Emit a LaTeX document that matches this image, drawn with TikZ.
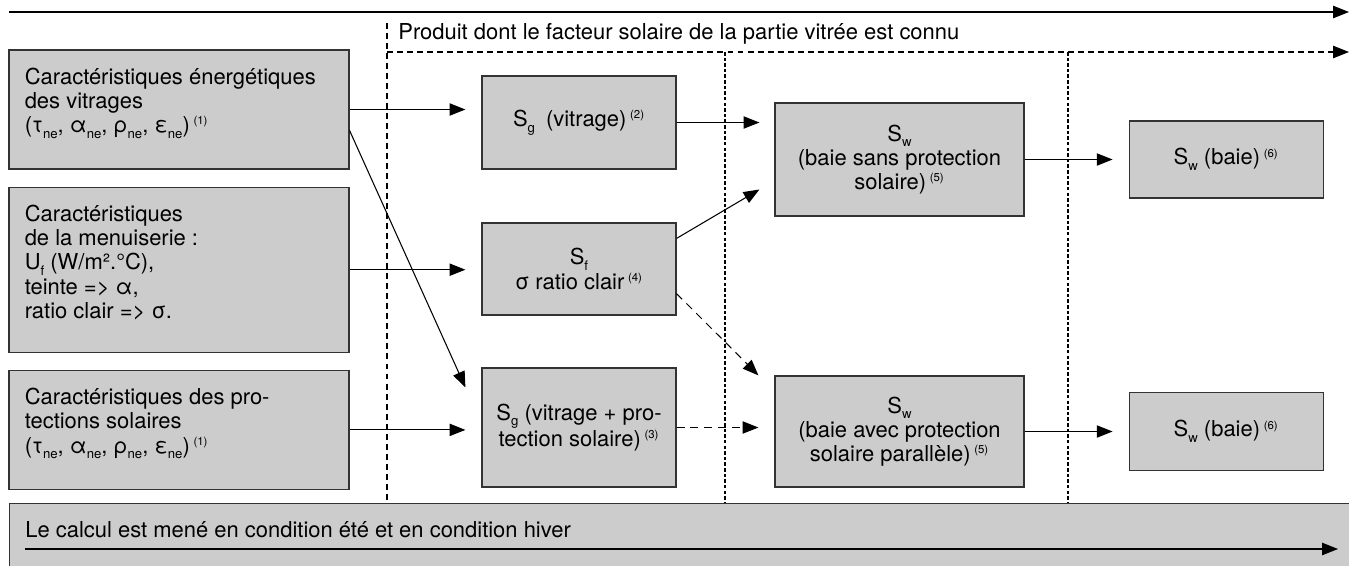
\documentclass[tikz,border=0pt]{standalone}
\usepackage{fontspec}
\setmainfont{TeX Gyre Heros}
\usetikzlibrary{arrows.meta,calc,positioning}
\definecolor{boite}{gray}{0.8}
\newcommand\bas[1]{\raisebox{-0.5ex}{\fontsize{7.5}{7.5}\selectfont #1}}
\newcommand\haut[1]{\,\textsuperscript{\fontsize{6.5}{6.5}\selectfont #1}}

\tikzset{
  fleche/.style={-{Triangle[length=9pt,width=7pt]},line width=0.6pt},
  tirets/.style={dash pattern=on 3.4pt off 2.3pt,line width=0.6pt},
  cloison/.style={dash pattern=on 2pt off 1.2pt,line width=0.6pt},
  tiretsfl/.style={dash pattern=on 4.5pt off 3.4pt},
}

\begin{document}
\begin{tikzpicture}[x=0.02cm,y=-0.02cm,font=\fontsize{12.5}{13.8}\selectfont,
  bloc/.style={draw=black!80,fill=boite,line width=0.7pt,inner sep=0pt},
  entree/.style={bloc,minimum width=6.8cm,minimum height=2.38cm},
  calcul/.style={bloc,minimum width=3.88cm,align=center},
  resultat/.style={bloc,minimum width=4.98cm,align=center},
  txtg/.style={anchor=north west,align=left,inner sep=0pt,xshift=0.32cm,yshift=-0.36cm}]

\useasboundingbox (0,0) rectangle (1349,565);

% donnees d'entree
\node[entree,label={[txtg]north west:Caractéristiques énergétiques\\des vitrages\\(τ\bas{ne}, α\bas{ne}, ρ\bas{ne},  ε\bas{ne})\haut{(1)}}] (vit) at (179,109.5) {};
\node[entree,minimum height=3.3cm,below=0.34cm of vit,label={[txtg]north west:Caractéristiques\\de la menuiserie :\\U\bas{f} (W/m².°C),\\teinte => α,\\ratio clair => σ.}] (men) {};
\node[entree,below=0.34cm of men,label={[txtg]north west:Caractéristiques des pro-\\tections solaires\\(τ\bas{ne}, α\bas{ne}, ρ\bas{ne},  ε\bas{ne})\haut{(1)}}] (pro) {};

% calculs
\node[calcul,minimum height=1.86cm] (sgv) at (579,122.5) {S\bas{g}\enspace(vitrage)\haut{(2)}};
\node[calcul,minimum height=1.84cm] (sf) at (579,269) {S\bas{f}\\σ ratio clair\haut{(4)}};
\node[calcul,minimum height=2.38cm] (sgp) at (579,427.5) {S\bas{g} (vitrage + pro-\\tection solaire)\haut{(3)}};
\node[resultat,minimum height=2.26cm] (sw1) at (899.5,159.5) {S\bas{w}\\(baie sans protection\\solaire)\haut{(5)}};
\node[resultat,minimum height=2.22cm] (sw2) at (899.5,431.5) {S\bas{w}\\(baie avec protection\\solaire parallèle)\haut{(5)}};
\node[calcul,minimum height=1.54cm,right=2.08cm of sw1] (baie1) {S\bas{w} (baie)\haut{(6)}};
\node[calcul,minimum height=1.56cm,right=2.08cm of sw2] (baie2) {S\bas{w} (baie)\haut{(6)}};

% bandeau du bas
\node[bloc,minimum width=27.2cm,minimum height=1.5cm,anchor=north west,label={[txtg]north west:Le calcul est mené en condition été et en condition hiver}] (hiver) at (9,503) {};
\draw[fleche] ($(hiver.north west)+(16,46)$) -- ($(hiver.north west)+(1329,46)$);

% ligne du haut et zone "connu"
\coordinate (ligne-g) at (9,12);
\coordinate (ligne-d) at (1349,12);
\draw[fleche] (ligne-g) -- (ligne-d);
\node[anchor=west,inner sep=0pt] (connu) at (398,34) {Produit dont le facteur solaire de la partie vitrée est connu};
\coordinate (coin) at (387,23);
\coordinate (connu-g) at (387,52);
\coordinate (connu-d) at (1349,52);
\coordinate (sep1) at (725,52);
\coordinate (sep2) at (1068,52);
\draw[tirets] (coin) -- (coin |- hiver.north);
\draw[tirets,fleche] (connu-g) -- (connu-d);
\draw[cloison] (sep1) -- (sep1 |- hiver.north);
\draw[cloison] (sep2) -- (sep2 |- hiver.north);

% fleches
\draw[fleche] (vit.east) -- ($(vit.east -| sgv.west)+(-16,0)$);
\draw[fleche] ($(vit.east)+(0,21)$) -- ($(sgp.north west)+(-16,20)$);
\draw[fleche] (men.east) -- ($(men.east -| sf.west)+(-16,0)$);
\draw[fleche] (pro.east) -- ($(pro.east -| sgp.west)+(-16,0)$);
\draw[fleche] (sgv.east) -- ($(sgv.east -| sw1.west)+(-15,0)$);
\draw[fleche] ($(sf.north east)+(0,16)$) -- ($(sw1.west)+(-15,30)$);
\draw[fleche,tiretsfl] ($(sf.south east)+(0,-22)$) -- ($(sw2.north west)+(-16,0)$);
\draw[fleche,tiretsfl] (sgp.east) -- ($(sgp.east -| sw2.west)+(-16,0)$);
\draw[fleche] (sw1.east) -- ($(sw1.east -| baie1.west)+(-16,0)$);
\draw[fleche] (sw2.east) -- ($(sw2.east -| baie2.west)+(-16,0)$);
\end{tikzpicture}
\end{document}
